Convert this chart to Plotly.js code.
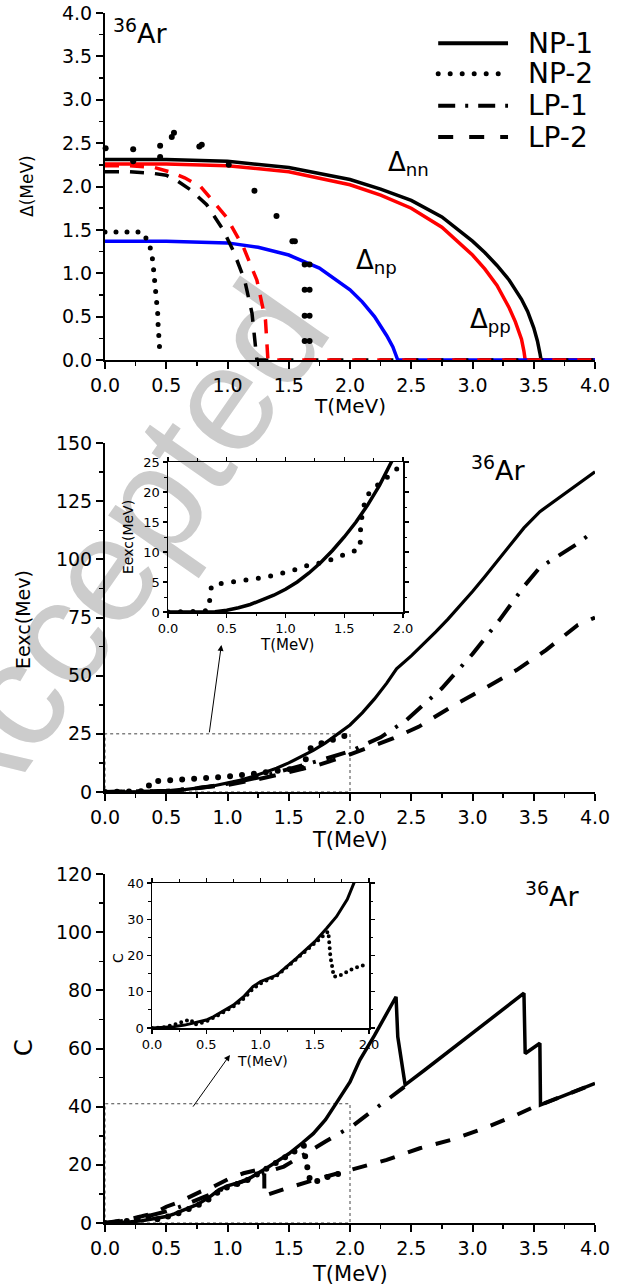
<!DOCTYPE html>
<html><head><meta charset="utf-8">
<script src="https://cdn.plot.ly/plotly-3.0.1.min.js"></script>
<style>
html,body{margin:0;padding:0;background:#fff;}
#wrap{position:relative;width:638px;height:1288px;overflow:hidden;}
#wm{position:absolute;left:113px;top:556px;transform:translate(-50%,-50%) rotate(-55deg);font-family:'Liberation Sans',sans-serif;font-size:150px;color:#cccccc;white-space:nowrap;z-index:0;line-height:1;}
#chart{position:absolute;left:0;top:0;width:638px;height:1288px;z-index:1;}
path[style*="rgb(0, 0, 1)"]{stroke-linecap:round;}
</style>
</head><body><div id="wrap"><div id="wm">Accepted</div><div id="chart"></div></div>
<script>
// ---------- Panel 1: pairing gaps (MeV) ----------
const T_nn1 = [0,0.5,1.0,1.5,2.0,2.25,2.5,2.75,3.0,3.1,3.2,3.3,3.4,3.45,3.5,3.53,3.55,3.56,4.0];
const D_nn1 = [2.31,2.31,2.29,2.22,2.08,1.97,1.84,1.65,1.37,1.24,1.09,0.92,0.70,0.56,0.37,0.22,0.08,0,0];
const T_pp1 = [0,0.5,1.0,1.5,2.0,2.25,2.5,2.75,3.0,3.1,3.2,3.3,3.35,3.4,3.42,3.43,4.0];
const D_pp1 = [2.26,2.26,2.24,2.17,2.02,1.90,1.75,1.53,1.21,1.05,0.86,0.60,0.44,0.24,0.10,0,0];
const T_np1 = [0,0.5,1.0,1.25,1.5,1.75,2.0,2.1,2.2,2.3,2.35,2.38,2.39,4.0];
const D_np1 = [1.37,1.37,1.35,1.30,1.21,1.06,0.81,0.67,0.50,0.28,0.15,0.05,0,0];
const T_nnLP2 = [0,0.2,0.4,0.5,0.585,0.7,0.83,0.965,1.05,1.14,1.2,1.22,1.24,4.0];
const D_nnLP2 = [2.17,2.17,2.15,2.13,2.07,1.96,1.79,1.50,1.25,0.92,0.54,0.23,0,0];
const T_ppLP2 = [0,0.2,0.4,0.55,0.65,0.78,0.99,1.13,1.24,1.31,1.33,4.0];
const D_ppLP2 = [2.24,2.24,2.22,2.16,2.10,2.00,1.65,1.30,0.92,0.46,0,0];
const T_npNP2 = [0,0.1,0.2,0.3,0.35,0.377,0.39,0.40,0.405,0.416,0.425,0.43,0.433,0.438,0.44,0.45];
const D_npNP2 = [1.475,1.475,1.475,1.475,1.375,1.26,1.14,1.02,0.90,0.78,0.66,0.54,0.42,0.30,0.18,0.04];
const T_nnppNP2 = [0.005,0.23,0.23,0.45,0.45,0.545,0.563,0.77,0.79,1.01,1.22,1.40,1.53,1.55,1.63,1.67,1.63,1.67,1.63,1.67,1.63,1.67];
const D_nnppNP2 = [2.44,2.43,2.29,2.47,2.34,2.57,2.62,2.46,2.48,2.25,1.95,1.66,1.37,1.37,1.10,1.10,0.81,0.81,0.51,0.51,0.22,0.22];

// ---------- Panel 2: excitation energy (MeV) ----------
const T_E_NP1 = [0,0.3,0.4,0.5,0.6,0.7,0.8,0.9,1.0,1.1,1.2,1.3,1.4,1.5,1.6,1.7,1.8,1.9,2.0,2.1,2.2,2.3,2.38,2.5,2.6,2.7,2.8,2.9,3.0,3.1,3.2,3.3,3.42,3.55,3.7,3.85,4.0];
const E_NP1   = [0,0,0.05,0.3,0.7,1.25,1.95,2.8,3.8,5.0,6.5,8.25,10.25,12.5,15.0,17.85,21.1,24.8,28.8,34.0,40.0,46.8,52.9,58.5,63.5,68.8,74.3,80.0,86.2,92.5,99.0,105.8,113.5,120.5,126.3,132.0,137.6];
const T_E_NP2 = [0,0.3,0.345,0.35,0.37,0.40,0.5,0.6,0.7,0.8,0.9,1.0,1.1,1.2,1.3,1.4,1.5,1.6,1.635,1.64,1.68,1.73,1.8,1.86,1.92,1.97];
const E_NP2   = [0,0.1,0.4,1.5,4.4,4.6,4.85,5.1,5.35,5.7,6.1,6.6,7.15,7.85,8.2,8.8,9.45,10.3,10.6,14.8,18.9,20.3,21.4,22.3,23.3,24.3];
const T_E_LP1 = [0,0.5,0.75,1.0,1.25,1.5,1.75,2.0,2.25,2.46,2.75,3.0,3.22,3.43,3.55,3.71,3.85,4.0];
const E_LP1   = [0,0.5,1.6,3.5,6.2,9.8,13.5,17.5,23.5,30.9,44.6,59.3,73.9,89.0,96.5,101.8,106.5,112.5];
const T_E_LP2 = [0,0.5,1.0,1.25,1.5,1.75,1.92,2.14,2.35,2.56,2.83,3.1,3.36,3.6,3.86,4.0];
const E_LP2   = [0,0.3,3.0,5.5,8.5,11.8,14.6,19.0,23.0,28.0,36.7,44.6,52.4,61.0,71.8,75.0];

// ---------- Panel 3: heat capacity ----------
const T_C_NP1 = [0,0.1,0.2,0.3,0.4,0.5,0.565,0.65,0.75,0.85,0.93,1.0,1.15,1.33,1.5,1.61,1.7,1.8,1.855,1.9,2.0,2.08,2.2,2.3,2.376,2.39,2.45,2.61,3.0,3.42,3.43,3.55,3.555,4.0];
const C_NP1   = [0,0.1,0.37,0.8,1.4,2.2,3.1,4.6,6.3,8.8,11.4,12.8,14.6,19.2,23.8,27.5,30.7,35.5,39.4,42.0,48.5,56.0,64.5,72.0,77.8,64.0,47.5,52.6,65.4,79.0,58.3,61.8,40.6,48.0];
const T_C_NP2 = [0,0.1,0.2,0.25,0.31,0.36,0.39,0.44,0.5,0.565,0.65,0.75,0.85,0.93,1.0,1.15,1.33,1.5,1.6,1.625,1.635,1.645,1.66,1.67,1.675,1.72,1.77,1.86,1.96];
const C_NP2   = [0,0.1,0.9,1.5,2.0,2.3,0.9,1.3,1.8,2.8,4.2,5.9,8.2,10.8,12.3,14.4,19.0,23.6,26.0,26.6,22.5,19.5,17.0,15.5,14.2,14.3,15.0,16.5,17.4];
const T_C_LP1 = [0,0.1,0.2,0.3,0.4,0.5,0.6,0.7,0.8,0.9,1.0,1.1,1.2,1.3,1.46,1.59,1.8,2.03,2.12,2.27,2.45];
const C_LP1   = [0,0.4,1.0,1.8,2.8,4.0,5.4,7.0,8.8,10.6,12.3,14.0,15.7,17.3,19.4,22.8,28.0,33.7,36.6,41.2,47.0];
const T_C_LP2 = [0,0.1,0.2,0.3,0.4,0.5,0.61,0.78,0.885,1.02,1.13,1.24,1.3,1.301,1.31,1.48,1.7,1.755,2.0,2.3,2.57,2.82,3.06,3.33,3.52,3.555,4.0];
const C_LP2   = [0,0.5,1.3,2.3,3.4,5.6,7.3,10.8,12.5,15.4,17.1,18.2,18.6,9.0,9.5,11.9,14.8,15.4,18.2,21.7,25.7,28.5,32.0,36.6,40.3,40.6,48.0];

// ---------- Labels ----------
const legendNames = ['NP-1','NP-2','LP-1','LP-2'];

// ---------- Styles ----------
const DOT = 'rgb(0,0,1)';   // black, dotted (round caps via CSS)
const FONT = 'DejaVu Sans, sans-serif';
const W = 638, H = 1288;
const PX = p => p / W, PY = p => 1 - p / H;

function ln(x, y, xa, ya, color, width, dash, clip) {
  return {x, y, xaxis: xa, yaxis: ya, type: 'scatter', mode: 'lines',
    line: {color, width, dash: dash || 'solid', shape: 'linear'},
    cliponaxis: clip === undefined ? true : clip, hoverinfo: 'skip', showlegend: false};
}
function mk(x, y, xa, ya, size) {
  return {x, y, xaxis: xa, yaxis: ya, type: 'scatter', mode: 'markers',
    marker: {color: '#000', size}, cliponaxis: false, hoverinfo: 'skip', showlegend: false};
}

const traces = [
  // panel 1
  ln(T_nn1, D_nn1, 'x', 'y', '#000', 3.5, 'solid', false),
  ln(T_pp1, D_pp1, 'x', 'y', '#ff0000', 3.5, 'solid', false),
  ln(T_np1, D_np1, 'x', 'y', '#0000ff', 3.5, 'solid', false),
  ln(T_nnLP2, D_nnLP2, 'x', 'y', '#000', 3.5, '14px,11px', false),
  ln(T_ppLP2, D_ppLP2, 'x', 'y', '#ff0000', 3.5, '14px,11px', false),
  ln(T_npNP2, D_npNP2, 'x', 'y', DOT, 5, '0px,11px', false),
  mk(T_nnppNP2, D_nnppNP2, 'x', 'y', 6),
  // panel 2 main
  ln(T_E_LP2, E_LP2, 'x2', 'y2', '#000', 4, '17px,14px', false),
  ln(T_E_LP1, E_LP1, 'x2', 'y2', '#000', 4, '20px,11px,3px,11px', false),
  ln(T_E_NP1, E_NP1, 'x2', 'y2', '#000', 3.2, 'solid', false),
  ln(T_E_NP2, E_NP2, 'x2', 'y2', DOT, 6, '0px,12px', false),
  // panel 2 inset
  ln(T_E_NP1, E_NP1, 'x3', 'y3', '#000', 3.5, 'solid', true),
  ln(T_E_NP2, E_NP2, 'x3', 'y3', DOT, 5, '0px,12.5px', true),
  // panel 3 main
  ln(T_C_LP2, C_LP2, 'x4', 'y4', '#000', 4, '15px,14px', false),
  ln(T_C_LP1, C_LP1, 'x4', 'y4', '#000', 4, '18px,12px,3px,12px', false),
  ln(T_C_NP1, C_NP1, 'x4', 'y4', '#000', 3.5, 'solid', false),
  ln(T_C_NP2, C_NP2, 'x4', 'y4', DOT, 6, '0px,11px', false),
  // panel 3 inset
  ln(T_C_NP1, C_NP1, 'x5', 'y5', '#000', 3, 'solid', true),
  ln(T_C_NP2, C_NP2, 'x5', 'y5', DOT, 4, '0px,6px', true)
];

function axMain(extra) {
  return Object.assign({
    showline: true, linecolor: '#000', linewidth: 2, mirror: false,
    ticks: 'outside', ticklen: 7, tickwidth: 2, tickcolor: '#000',
    showgrid: false, zeroline: false, layer: 'below traces', fixedrange: true,
    tickfont: {family: FONT, size: 19, color: '#000'}, tickmode: 'linear'
  }, extra);
}
function axInset(extra) {
  return Object.assign({
    showline: true, linecolor: '#000', linewidth: 1.5, mirror: 'ticks',
    ticks: 'outside', ticklen: 4, tickwidth: 1.2, tickcolor: '#000',
    showgrid: false, zeroline: false, layer: 'below traces', fixedrange: true,
    tickfont: {family: FONT, size: 13, color: '#000'}, tickmode: 'linear'
  }, extra);
}
const minorMain = d => ({dtick: d, ticks: 'outside', ticklen: 4, tickwidth: 1.5, tickcolor: '#000', showgrid: false});
const minorInset = d => ({dtick: d, ticks: 'outside', ticklen: 2.5, tickwidth: 1, tickcolor: '#000', showgrid: false});

const XD = [PX(105), PX(595)];
const layout = {
  width: W, height: H, margin: {l: 0, r: 0, t: 0, b: 0},
  paper_bgcolor: 'rgba(0,0,0,0)', plot_bgcolor: 'rgba(0,0,0,0)',
  showlegend: false, font: {family: FONT, color: '#000'},
  xaxis:  axMain({domain: XD, anchor: 'y', range: [0, 4], tick0: 0, dtick: 0.5, tickformat: '.1f', minor: minorMain(0.25)}),
  yaxis:  axMain({domain: [PY(360), PY(13)], anchor: 'x', range: [0, 4], tick0: 0, dtick: 0.5, tickformat: '.1f', minor: minorMain(0.25)}),
  xaxis2: axMain({domain: XD, anchor: 'y2', range: [0, 4], tick0: 0, dtick: 0.5, tickformat: '.1f', minor: minorMain(0.25)}),
  yaxis2: axMain({domain: [PY(792), PY(443)], anchor: 'x2', range: [0, 150], tick0: 0, dtick: 25, minor: minorMain(12.5)}),
  xaxis3: axInset({domain: [PX(168), PX(403)], anchor: 'y3', range: [0, 2], tick0: 0, dtick: 0.5, tickformat: '.1f', minor: minorInset(0.25)}),
  yaxis3: axInset({domain: [PY(612), PY(462)], anchor: 'x3', range: [0, 25], tick0: 0, dtick: 5, minor: minorInset(2.5)}),
  xaxis4: axMain({domain: XD, anchor: 'y4', range: [0, 4], tick0: 0, dtick: 0.5, tickformat: '.1f', minor: minorMain(0.25)}),
  yaxis4: axMain({domain: [PY(1223), PY(874)], anchor: 'x4', range: [0, 120], tick0: 0, dtick: 20, minor: minorMain(10)}),
  xaxis5: axInset({domain: [PX(152), PX(369)], anchor: 'y5', range: [0, 2], tick0: 0, dtick: 0.5, tickformat: '.1f', minor: minorInset(0.25)}),
  yaxis5: axInset({domain: [PY(1028), PY(883)], anchor: 'x5', range: [0, 40], tick0: 0, dtick: 10, minor: minorInset(5)}),
  shapes: [],
  annotations: []
};

// zoom rectangles
layout.shapes.push({type: 'rect', xref: 'x2', yref: 'y2', x0: 0, x1: 2, y0: 0, y1: 25,
  line: {color: '#444', width: 1, dash: '3px,3px'}, layer: 'below'});
layout.shapes.push({type: 'rect', xref: 'x4', yref: 'y4', x0: 0, x1: 2, y0: 0, y1: 41,
  line: {color: '#444', width: 1, dash: '3px,3px'}, layer: 'below'});

// legend (panel 1)
const legY = [3.65, 3.30, 2.93, 2.57];
const legDash = ['solid', '0px,12px', '17px,10px,3px,10px', '15px,16px'];
const legCol = ['#000', DOT, '#000', '#000'];
const legW = [4, 5, 4, 4];
legendNames.forEach((nm, i) => {
  layout.shapes.push({type: 'line', xref: 'x', yref: 'y', x0: 2.72, x1: 3.29, y0: legY[i], y1: legY[i],
    line: {color: legCol[i], width: legW[i], dash: legDash[i]}});
  layout.annotations.push({xref: 'x', yref: 'y', x: 3.44, y: legY[i], xanchor: 'left', yanchor: 'middle',
    text: nm, showarrow: false, font: {family: FONT, size: 28, color: '#000'}});
});

const A = (xref, yref, x, y, text, size, extra) => layout.annotations.push(Object.assign(
  {xref, yref, x, y, text, showarrow: false, xanchor: 'center', yanchor: 'middle',
   font: {family: FONT, size, color: '#000'}}, extra || {}));

// labels in panels
A('x', 'y', 0.286, 3.79, '<sup>36</sup>Ar', 27);
A('x', 'y', 2.48, 2.27, '\u0394<sub>nn</sub>', 26);
A('x', 'y', 2.22, 1.13, '\u0394<sub>np</sub>', 26);
A('x', 'y', 3.15, 0.46, '\u0394<sub>pp</sub>', 26);
A('x2', 'y2', 3.21, 139.2, '<sup>36</sup>Ar', 27);
A('x4', 'y4', 3.65, 112.8, '<sup>36</sup>Ar', 27);

// axis titles
A('paper', 'paper', PX(350), PY(406), 'T(MeV)', 20);
A('paper', 'paper', PX(350), PY(840), 'T(MeV)', 21);
A('paper', 'paper', PX(350), PY(1274), 'T(MeV)', 21);
A('paper', 'paper', PX(27), PY(186), '\u0394(MeV)', 17, {textangle: -90});
A('paper', 'paper', PX(23), PY(620), 'Eexc(Mev)', 19, {textangle: -90});
A('paper', 'paper', PX(24), PY(1048), 'C', 24, {textangle: -90});
A('paper', 'paper', PX(128), PY(537), 'Eexc(MeV)', 14, {textangle: -90});
A('paper', 'paper', PX(287), PY(645), 'T(MeV)', 15);
A('paper', 'paper', PX(118), PY(958), 'C', 14, {textangle: -90});
A('paper', 'paper', PX(262), PY(1061), 'T(MeV)', 14);

// arrows from zoom boxes to insets
layout.annotations.push({xref: 'x2', yref: 'y2', axref: 'x2', ayref: 'y2', x: 0.95, y: 63.2, ax: 0.85, ay: 25,
  text: '', showarrow: true, arrowhead: 2, arrowsize: 1.2, arrowwidth: 1, arrowcolor: '#000'});
layout.annotations.push({xref: 'x4', yref: 'y4', axref: 'x4', ayref: 'y4', x: 1.02, y: 57.8, ax: 0.71, ay: 39.5,
  text: '', showarrow: true, arrowhead: 2, arrowsize: 1.2, arrowwidth: 1, arrowcolor: '#000'});

Plotly.newPlot('chart', traces, layout, {staticPlot: true, displayModeBar: false});
</script></body></html>
